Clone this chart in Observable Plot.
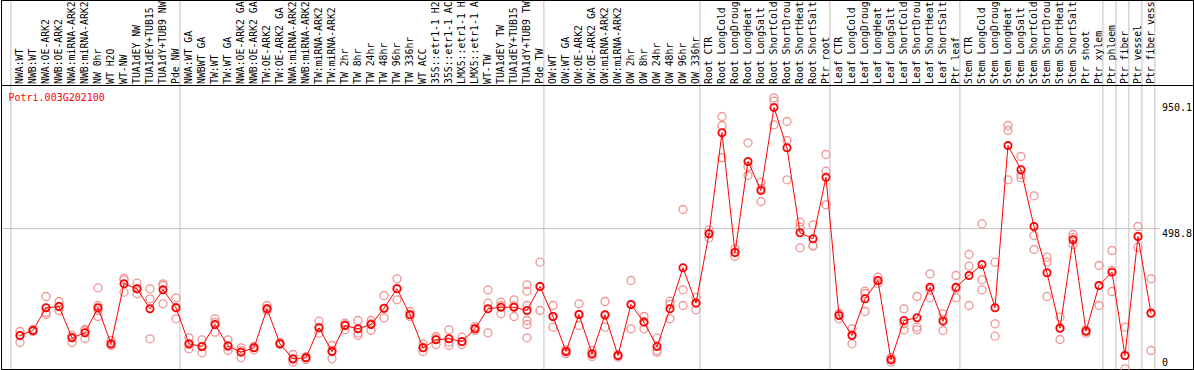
<!DOCTYPE html>
<html><head><meta charset="utf-8">
<script src="https://cdn.jsdelivr.net/npm/d3@7"></script>
<script src="https://cdn.jsdelivr.net/npm/@observablehq/plot@0.6"></script>
<style>body{margin:0;background:#fff}</style>
</head><body><div id="chart"></div>
<script>
const title = "Potri.003G202100";
const labels = [
 "NWA:WT","NWB:WT","NWA:OE-ARK2","NWB:OE-ARK2","NWA:miRNA-ARK2","NWB:miRNA-ARK2","NW 0hr","WT H2O","WT-NW","TUA1dEY NW","TUA1dEY+TUB15","TUA1dY+TUB9 NW","Pde NW",
 "NWA:WT GA","NWBWT GA","TW:WT","TW:WT GA","NWA:OE-ARK2 GA","NWB:OE-ARK2 GA","TW:OE-ARK2","TW:OE-ARK2 GA","NWA:miRNA-ARK2","NWB:miRNA-ARK2","TW:miRNA-ARK2","TW:miRNA-ARK2","TW 2hr","TW 8hr","TW 24hr","TW 48hr","TW 96hr","TW 336hr","WT ACC","35S::etr1-1 H2","35S::etr1-1 AC","LMX5::etr1-1 H","LMX5::etr1-1 A","WT-TW","TUA1dEY TW","TUA1dEY+TUB15","TUA1dY+TUB9 TW","Pde TW",
 "OW:WT","OW:WT GA","OW:OE-ARK2","OW:OE-ARK2 GA","OW:miRNA-ARK2","OW:miRNA-ARK2","OW 2hr","OW 8hr","OW 24hr","OW 48hr","OW 96hr","OW 336hr",
 "Root CTR","Root LongCold","Root LongDroug","Root LongHeat","Root LongSalt","Root ShortCold","Root ShortDrou","Root ShortHeat","Root ShortSalt","Ptr root",
 "Leaf CTR","Leaf LongCold","Leaf LongDroug","Leaf LongHeat","Leaf LongSalt","Leaf ShortCold","Leaf ShortDrou","Leaf ShortHeat","Leaf ShortSalt","Ptr leaf",
 "Stem CTR","Stem LongCold","Stem LongDroug","Stem LongHeat","Stem LongSalt","Stem ShortCold","Stem ShortDrou","Stem ShortHeat","Stem ShortSalt","Ptr shoot","Ptr xylem",
 "Ptr phloem","Ptr fiber","Ptr vessel","Ptr fiber vess"
];
const means = [
 100.6,119.2,203.8,208.7,92,110.7,203.8,69.7,293.2,274.6,200.1,270.9,203.8,
 69.7,59.6,141.6,62.2,38.4,54.8,200.1,69.7,13.8,17.5,129.3,41,137.9,125.6,141.6,202.3,274.6,177.7,54.8,84.6,88.3,78.2,125.6,200.1,206,206,193.8,283.2,
 171.4,41,178.8,32.4,177.7,26.1,216.1,150.2,59.6,200.1,352.9,221,
 479.5,855.9,409.9,748.9,640.9,950.1,800,483.3,460.9,690.4,
 175.1,100.6,237.3,305.5,10.1,156.5,166.6,280.6,153.9,280.6,
 324.2,365.1,203.8,808.5,718,506.7,334.2,127.8,457.2,116.6,286.9,
 336.5,26.1,469.5,183.7
];
const reps = [
 [115.5,100.6,74.5],[123,119.2,115.5],[245.9,186.3,178.8],[227.3,208.7,193.8],[100.6,93,74.5],[123,119.2,89.4],[278.3,212.4,193.8,171.4],[82,67.1,63.3],[314.1,308.1,261.9],[295.5,274.6,256],[274.6,237.3,88.3],[293.2,286.9,218.7],[241.1,162.8,205],
 [92,51,67],[84.6,36.1,59],[162.8,112.9,149],[84.6,44.7,59],[54.8,17.5,44],[59.6,47.3,56],[212.4,193.8,201],[74.5,67,71],[29.8,1.1,11],[22,11,19],[153.9,109.2,130],[63.3,13.8,45],[146.4,121.8,141],[156.5,109.2,100.6],[156.5,119.2,145],[249.6,166.6,201],[311.9,233.6,276],[190,171.4,179],[69.7,41,56],[96.9,67.1,89],[121.8,75.6,63.3],[94.3,67.1,78],[134,119,127],[270.9,221,110.7],[224.7,181.5,212],[233.6,171.4,212],[289.5,265.7,212.4,156.5,141.6,92],[373.7,193.8,283],
 [212.4,131.5,171],[48,33,41],[218.7,137.9,179],[44.7,22.4,30],[227.3,131.5,175],[29.8,20.5,26],[305.5,125.6,216],[171.4,125.6,153],[90.5,44.7,38.4],[228.4,216.1,162.8],[570.1,270.9,212.4],[243.3,196.4,223],
 [494.4,464.6,480],[916.6,883,762.7],[423.6,395,410],[818.6,730.3,696.8],[671.8,599.9,648],[986.3,973.6,885.7],[898,827.2,680.7],[522.8,504.1,427.4],[513.1,435.9,434],[775,712.8,587.6],
 [182.6,162.8,179],[125.6,69.7,104],[265.7,190,257],[317.8,295.5,305],[1.1,18.6,11],[200.1,144.2,121.8],[245.9,131.5,121.8],[330.5,241.1,272],[181.5,119.2,160],[324.2,241.1,276],
 [402.4,358.8,212.4],[516.8,308.1,270.9],[373.7,144.2,98],[883,864.4,680.7],[767.6,700.5,688.2],[621.1,473.2,421],[392.3,373.7,245.9],[168.8,85.7,130],[476.9,439.7,466],[121.8,109.2,119],[361.4,212.4,287],
 [417.3,264.5,343],[131.5,-23.5,26],[506.7,429.6,470],[311.9,44.7,186]
];
const groupStarts = [0,13,41,53,63,73,84,85,86,87,88];
const yTicks = [0, 498.8, 950.1];

const meanData = means.map((v, i) => ({i, v}));
const repData = reps.flatMap((r, i) => r.map(v => ({i, v})));

const chart = Plot.plot({
  width: 1194, height: 370,
  marginTop: 85, marginBottom: 1, marginLeft: 1, marginRight: 1,
  x: {type: "linear", domain: [-1.423, 90.27], axis: null},
  y: {domain: [-26.1, 1032.1], axis: null},
  style: {fontFamily: "'DejaVu Sans Mono', monospace", fontSize: "10px", background: "white", overflow: "hidden"},
  marks: [
    Plot.ruleX(groupStarts, {x: d => d - 0.7, stroke: "#c0c0c0", strokeOpacity: 1, insetTop: -85}),
    Plot.ruleY([yTicks[1]], {stroke: "#c0c0c0", strokeOpacity: 1, insetRight: 33}),
    Plot.frame({stroke: "black"}),
    Plot.frame({stroke: "black", insetTop: -85}),
    Plot.text(labels, {x: (d, i) => i, text: d => d, frameAnchor: "top", rotate: -90, textAnchor: "start", lineAnchor: "middle", dy: -1.5, fontSize: 9.8, fill: "black"}),
    Plot.text([title], {text: d => d, frameAnchor: "top-left", dx: 7, dy: 12, textAnchor: "start", lineAnchor: "middle", fill: "#ff0000"}),
    Plot.dot(repData, {x: "i", y: "v", r: 4, stroke: "#f09494", strokeWidth: 1.3, fill: "none"}),
    Plot.line(meanData, {x: "i", y: "v", stroke: "#ff0000", strokeWidth: 1}),
    Plot.dot(meanData, {x: "i", y: "v", r: 3.6, stroke: "#ff0000", strokeWidth: 1.8, fill: "none"}),
    Plot.text(yTicks.filter(d => d !== yTicks[1]), {y: d => d, text: d => String(d), frameAnchor: "right", textAnchor: "start", lineAnchor: "middle", dx: -31.5, fill: "black"}),
    Plot.text([yTicks[1]], {y: d => d, text: d => String(d), frameAnchor: "right", textAnchor: "start", lineAnchor: "middle", dx: -31.5, dy: 5, fill: "black"})
  ]
});
document.getElementById("chart").appendChild(chart);
</script>
</body></html>
